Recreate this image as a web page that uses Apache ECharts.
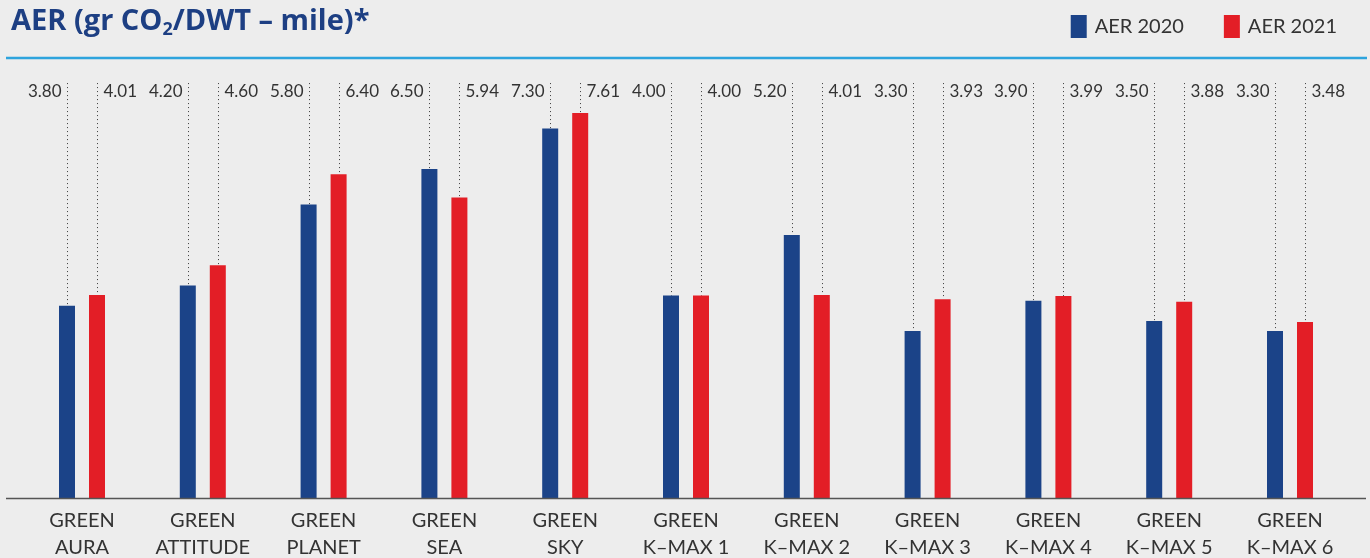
<!DOCTYPE html>
<html>
<head>
<meta charset="utf-8">
<script src="https://cdn.jsdelivr.net/npm/echarts@6/dist/echarts.min.js"></script>
<style>
html,body{margin:0;padding:0;background:#ededed;}
#chart{width:1370px;height:558px;}
</style>
</head>
<body>
<div id="chart"></div>
<script>
const categories = ['GREEN\nAURA','GREEN\nATTITUDE','GREEN\nPLANET','GREEN\nSEA','GREEN\nSKY','GREEN\nK–MAX 1','GREEN\nK–MAX 2','GREEN\nK–MAX 3','GREEN\nK–MAX 4','GREEN\nK–MAX 5','GREEN\nK–MAX 6'];
const aer2020 = [3.80, 4.20, 5.80, 6.50, 7.30, 4.00, 5.20, 3.30, 3.90, 3.50, 3.30];
const aer2021 = [4.01, 4.60, 6.40, 5.94, 7.61, 4.00, 4.01, 3.93, 3.99, 3.88, 3.48];
const seriesNames = ['AER 2020', 'AER 2021'];
const colors = ['#1b4388', '#e31e26'];

const chart = echarts.init(document.getElementById('chart'), null, {renderer: 'canvas'});
const FONT = 'Lato';
const BAR_W = 16, OFFSET = 15, LINE_TOP = 8.2;

function leaderSeries(values, side) {
  return {
    type: 'custom',
    silent: true,
    clip: false,
    z: 1,
    data: values.map((v, i) => [i, v]),
    renderItem: function (params, api) {
      const i = api.value(0), v = api.value(1);
      const base = api.coord([i, v]);
      const top = api.coord([i, LINE_TOP]);
      const x = Math.round(base[0] + side * OFFSET) + 0.5;
      return {
        type: 'group',
        children: [
          {type: 'line', shape: {x1: x, y1: top[1], x2: x, y2: base[1]},
           style: {stroke: '#3a3a3a', lineWidth: 1, lineDash: [1, 3]}},
          {type: 'text', x: side < 0 ? x - 6 : x + 6, y: top[1] + 8,
           style: {text: v.toFixed(2), fill: '#333', font: '17px ' + FONT,
                   align: side < 0 ? 'right' : 'left', verticalAlign: 'middle'}}
        ]
      };
    }
  };
}

chart.setOption({
  backgroundColor: '#ededed',
  animation: false,
  title: {
    left: 6, top: 0,
    text: '{a|AER (gr CO}{s|2}{a|/DWT – mile)*}',
    textStyle: {
      rich: {
        a: {fontFamily: 'Open Sans', fontWeight: 'bold', fontSize: 29, color: '#1d3f83', lineHeight: 34},
        s: {fontFamily: 'Open Sans', fontWeight: 'bold', fontSize: 18, color: '#1d3f83', lineHeight: 16, verticalAlign: 'bottom'}
      }
    }
  },
  legend: {
    data: seriesNames,
    right: 28, top: 10,
    icon: 'rect',
    itemWidth: 16, itemHeight: 23,
    itemGap: 40,
    textStyle: {fontFamily: FONT, fontSize: 20, color: '#333', padding: [0, 0, 0, 3]}
  },
  grid: {left: 21.6, right: 19.6, top: 93.2, bottom: 60, containLabel: false, outerBoundsMode: 'none'},
  xAxis: {
    type: 'category',
    data: categories,
    axisLine: {show: false},
    axisTick: {show: false},
    axisLabel: {interval: 0, fontFamily: FONT, fontSize: 20, color: '#333', lineHeight: 27, margin: 9, hideOverlap: false}
  },
  yAxis: {type: 'value', min: 0, max: 8, show: false, splitLine: {show: false}},
  graphic: [
    {type: 'line', shape: {x1: 6, y1: 58, x2: 1367, y2: 58}, style: {stroke: '#2ea4dd', lineWidth: 2.5}},
    {type: 'line', shape: {x1: 6, y1: 498.5, x2: 1366, y2: 498.5}, style: {stroke: '#555', lineWidth: 1.6}, z: 10}
  ],
  series: [
    {name: seriesNames[0], type: 'bar', data: aer2020, barWidth: BAR_W, barGap: '87.5%', itemStyle: {color: colors[0]}, z: 2},
    {name: seriesNames[1], type: 'bar', data: aer2021, barWidth: BAR_W, barGap: '87.5%', itemStyle: {color: colors[1]}, z: 2},
    leaderSeries(aer2020, -1),
    leaderSeries(aer2021, 1)
  ]
});
</script>
</body>
</html>
